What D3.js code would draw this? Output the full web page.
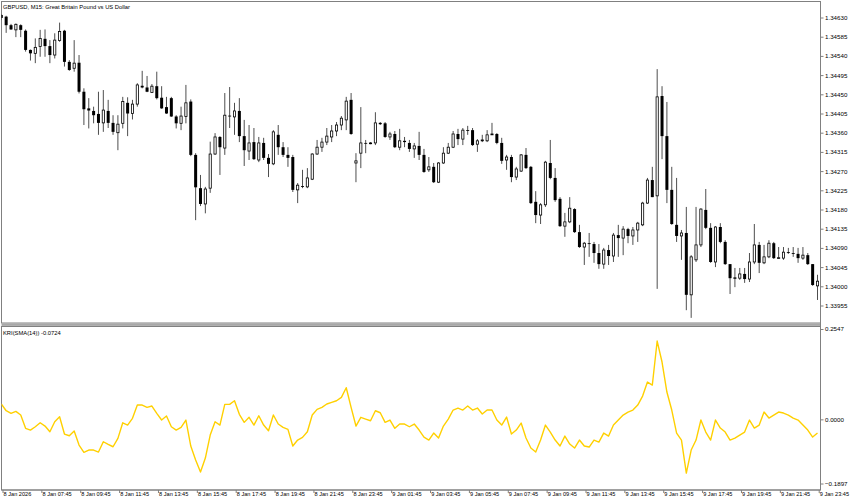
<!DOCTYPE html>
<html><head><meta charset="utf-8">
<script src="https://cdn.jsdelivr.net/npm/d3@7"></script>
<style>
html,body{margin:0;padding:0;background:#fff;}
svg{display:block;}
text{font-family:"Liberation Sans",Arial,sans-serif;fill:#000;}
</style>
</head><body>
<svg id="c" width="852" height="501"></svg>
<script>
const chartTitle = "GBPUSD, M15:  Great Britain Pound vs US Dollar";
const indicatorTitle = "KRI(SMA(14)) -0.0724";

const opens = [1.34636,1.34632,1.34612,1.34601,1.34612,1.34599,1.34554,1.34546,1.34562,1.34580,1.34563,1.34542,1.34576,1.34599,1.34526,1.34511,1.34524,1.34456,1.34417,1.34411,1.34404,1.34383,1.34411,1.34383,1.34360,1.34382,1.34430,1.34405,1.34427,1.34470,1.34466,1.34454,1.34469,1.34442,1.34420,1.34441,1.34398,1.34382,1.34398,1.34433,1.34308,1.34230,1.34193,1.34230,1.34310,1.34350,1.34324,1.34400,1.34397,1.34411,1.34352,1.34317,1.34338,1.34296,1.34336,1.34301,1.34287,1.34355,1.34326,1.34308,1.34303,1.34226,1.34235,1.34233,1.34251,1.34310,1.34326,1.34338,1.34350,1.34364,1.34378,1.34390,1.34437,1.34289,1.34312,1.34336,1.34335,1.34336,1.34383,1.34382,1.34350,1.34357,1.34326,1.34341,1.34336,1.34322,1.34329,1.34308,1.34273,1.34280,1.34244,1.34289,1.34312,1.34326,1.34357,1.34345,1.34366,1.34366,1.34333,1.34341,1.34341,1.34355,1.34357,1.34336,1.34296,1.34303,1.34256,1.34270,1.34308,1.34280,1.34198,1.34167,1.34191,1.34289,1.34254,1.34205,1.34141,1.34151,1.34181,1.34127,1.34092,1.34101,1.34099,1.34078,1.34052,1.34085,1.34071,1.34120,1.34113,1.34134,1.34118,1.34132,1.34144,1.34195,1.34249,1.34212,1.34446,1.34352,1.34226,1.34144,1.34118,1.34125,1.33980,1.34062,1.34097,1.34179,1.34137,1.34057,1.34139,1.34104,1.34052,1.34019,1.34019,1.34029,1.34017,1.34057,1.34097,1.34055,1.34069,1.34101,1.34066,1.34066,1.34080,1.34078,1.34076,1.34066,1.34073,1.34052,1.34001];
const highs = [1.34638,1.34634,1.34615,1.34616,1.34614,1.34602,1.34555,1.34581,1.34601,1.34602,1.34577,1.34593,1.34618,1.34601,1.34530,1.34577,1.34542,1.34464,1.34441,1.34421,1.34456,1.34460,1.34437,1.34401,1.34401,1.34444,1.34443,1.34437,1.34476,1.34505,1.34493,1.34474,1.34503,1.34469,1.34444,1.34444,1.34401,1.34421,1.34472,1.34438,1.34312,1.34261,1.34233,1.34339,1.34359,1.34352,1.34453,1.34467,1.34430,1.34441,1.34390,1.34378,1.34371,1.34350,1.34348,1.34310,1.34366,1.34378,1.34338,1.34326,1.34308,1.34242,1.34273,1.34277,1.34312,1.34343,1.34348,1.34371,1.34378,1.34385,1.34399,1.34444,1.34453,1.34312,1.34420,1.34343,1.34338,1.34408,1.34385,1.34385,1.34362,1.34364,1.34369,1.34350,1.34343,1.34336,1.34362,1.34322,1.34303,1.34289,1.34291,1.34326,1.34336,1.34364,1.34369,1.34371,1.34376,1.34371,1.34345,1.34355,1.34366,1.34383,1.34359,1.34348,1.34308,1.34308,1.34280,1.34310,1.34324,1.34282,1.34223,1.34195,1.34294,1.34343,1.34277,1.34209,1.34172,1.34209,1.34183,1.34144,1.34104,1.34125,1.34104,1.34099,1.34090,1.34097,1.34125,1.34144,1.34141,1.34137,1.34139,1.34151,1.34198,1.34254,1.34280,1.34509,1.34469,1.34432,1.34280,1.34254,1.34132,1.34186,1.34073,1.34186,1.34183,1.34228,1.34148,1.34141,1.34148,1.34108,1.34052,1.34043,1.34043,1.34043,1.34078,1.34146,1.34104,1.34097,1.34108,1.34104,1.34092,1.34092,1.34090,1.34092,1.34090,1.34092,1.34078,1.34052,1.34027];
const lows = [1.34624,1.34594,1.34601,1.34584,1.34584,1.34550,1.34529,1.34523,1.34538,1.34538,1.34523,1.34534,1.34573,1.34515,1.34505,1.34503,1.34452,1.34378,1.34370,1.34382,1.34355,1.34362,1.34371,1.34355,1.34319,1.34370,1.34352,1.34391,1.34421,1.34464,1.34455,1.34453,1.34438,1.34416,1.34404,1.34397,1.34370,1.34366,1.34382,1.34305,1.34155,1.34188,1.34171,1.34219,1.34308,1.34261,1.34308,1.34371,1.34355,1.34338,1.34282,1.34296,1.34296,1.34291,1.34296,1.34256,1.34284,1.34308,1.34303,1.34280,1.34221,1.34195,1.34230,1.34230,1.34249,1.34308,1.34315,1.34331,1.34338,1.34352,1.34366,1.34366,1.34355,1.34244,1.34277,1.34312,1.34333,1.34331,1.34378,1.34348,1.34343,1.34324,1.34319,1.34326,1.34315,1.34301,1.34296,1.34266,1.34268,1.34242,1.34242,1.34287,1.34310,1.34324,1.34331,1.34331,1.34355,1.34329,1.34315,1.34338,1.34338,1.34355,1.34333,1.34287,1.34273,1.34244,1.34249,1.34268,1.34275,1.34193,1.34148,1.34146,1.34186,1.34251,1.34198,1.34139,1.34116,1.34148,1.34125,1.34090,1.34050,1.34069,1.34055,1.34041,1.34041,1.34050,1.34057,1.34069,1.34073,1.34101,1.34097,1.34104,1.34141,1.34193,1.34209,1.33994,1.34298,1.34195,1.34144,1.34104,1.34062,1.33944,1.33926,1.34057,1.34092,1.34134,1.34055,1.34045,1.34101,1.34050,1.33982,1.33998,1.34015,1.34008,1.34010,1.34052,1.34031,1.34052,1.34066,1.34064,1.34064,1.34062,1.34076,1.34069,1.34055,1.34062,1.34050,1.34001,1.33968];
const closes = [1.34629,1.34612,1.34602,1.34614,1.34601,1.34554,1.34546,1.34560,1.34581,1.34563,1.34542,1.34577,1.34597,1.34526,1.34507,1.34523,1.34456,1.34415,1.34412,1.34401,1.34383,1.34413,1.34383,1.34362,1.34380,1.34433,1.34405,1.34427,1.34472,1.34466,1.34456,1.34469,1.34441,1.34417,1.34405,1.34398,1.34382,1.34399,1.34430,1.34308,1.34232,1.34193,1.34228,1.34310,1.34350,1.34326,1.34401,1.34398,1.34411,1.34352,1.34319,1.34336,1.34298,1.34336,1.34301,1.34287,1.34362,1.34326,1.34308,1.34301,1.34226,1.34237,1.34233,1.34254,1.34310,1.34326,1.34338,1.34352,1.34364,1.34378,1.34394,1.34434,1.34357,1.34294,1.34336,1.34335,1.34336,1.34383,1.34380,1.34350,1.34357,1.34326,1.34341,1.34338,1.34322,1.34329,1.34308,1.34268,1.34280,1.34244,1.34289,1.34312,1.34326,1.34357,1.34345,1.34366,1.34364,1.34331,1.34341,1.34343,1.34355,1.34357,1.34336,1.34294,1.34303,1.34256,1.34275,1.34308,1.34277,1.34195,1.34167,1.34191,1.34291,1.34254,1.34202,1.34141,1.34151,1.34183,1.34127,1.34092,1.34101,1.34099,1.34078,1.34052,1.34085,1.34071,1.34120,1.34113,1.34134,1.34118,1.34132,1.34148,1.34195,1.34249,1.34209,1.34444,1.34352,1.34226,1.34146,1.34118,1.34125,1.33980,1.34069,1.34097,1.34181,1.34137,1.34057,1.34139,1.34104,1.34052,1.34019,1.34020,1.34029,1.34017,1.34057,1.34097,1.34055,1.34069,1.34101,1.34066,1.34067,1.34080,1.34078,1.34076,1.34066,1.34073,1.34052,1.34003,1.34012];
const kri = [0.0434,0.0250,0.0178,0.0233,0.0132,-0.0233,-0.0280,-0.0189,-0.0080,-0.0170,-0.0326,-0.0052,0.0085,-0.0390,-0.0436,-0.0307,-0.0691,-0.0892,-0.0829,-0.0829,-0.0883,-0.0601,-0.0672,-0.0738,-0.0508,-0.0080,-0.0143,0.0041,0.0406,0.0406,0.0343,0.0379,0.0178,-0.0005,0.0104,-0.0189,-0.0280,-0.0206,-0.0005,-0.0719,-0.1103,-0.1432,-0.1048,-0.0417,-0.0052,-0.0143,0.0425,0.0425,0.0524,0.0151,-0.0069,0.0069,-0.0143,0.0112,-0.0143,-0.0299,0.0132,-0.0115,-0.0206,-0.0261,-0.0719,-0.0554,-0.0480,-0.0326,0.0132,0.0288,0.0343,0.0434,0.0480,0.0524,0.0617,0.0881,0.0343,-0.0170,0.0069,0.0022,-0.0025,0.0250,0.0195,-0.0069,-0.0005,-0.0233,-0.0115,-0.0115,-0.0189,-0.0115,-0.0280,-0.0472,-0.0554,-0.0362,-0.0499,-0.0170,0.0022,0.0269,0.0324,0.0269,0.0379,0.0269,0.0324,0.0159,0.0269,0.0269,-0.0005,-0.0143,0.0077,-0.0390,-0.0280,-0.0088,-0.0499,-0.0774,-0.0884,-0.0554,-0.0143,-0.0335,-0.0554,-0.0719,-0.0445,-0.0664,-0.0774,-0.0554,-0.0719,-0.0746,-0.0554,-0.0609,-0.0362,-0.0445,-0.0143,-0.0005,0.0132,0.0214,0.0269,0.0406,0.0653,0.1037,0.0955,0.2162,0.1586,0.0763,0.0269,-0.0362,-0.0554,-0.1460,-0.0829,-0.0554,-0.0005,-0.0335,-0.0554,-0.0005,-0.0225,-0.0335,-0.0554,-0.0499,-0.0417,-0.0335,-0.0005,-0.0225,-0.0143,0.0214,0.0049,0.0132,0.0214,0.0187,0.0132,0.0049,-0.0005,-0.0143,-0.0280,-0.0472,-0.0362];

const priceTicks = [1.34630,1.34585,1.34540,1.34495,1.34450,1.34405,1.34360,1.34315,1.34270,1.34225,1.34180,1.34135,1.34090,1.34045,1.34000,1.33955];
const kriTicks = [0.2547,0.0000,-0.1897];
const timeTickBars = [0,8,16,24,32,40,48,56,64,72,80,88,96,104,112,120,128,136,144,152,160,168];
const timeTickLabels = ["8 Jan 2026","8 Jan 07:45","8 Jan 09:45","8 Jan 11:45","8 Jan 13:45","8 Jan 15:45","8 Jan 17:45","8 Jan 19:45","8 Jan 21:45","8 Jan 23:45","9 Jan 01:45","9 Jan 03:45","9 Jan 05:45","9 Jan 07:45","9 Jan 09:45","9 Jan 11:45","9 Jan 13:45","9 Jan 15:45","9 Jan 17:45","9 Jan 19:45","9 Jan 21:45","9 Jan 23:45"];

const candles = opens.map((o,i)=>({i,o,h:highs[i],l:lows[i],c:closes[i]}));

const L=1.5, R=820.5, mainTop=1.5, mainBot=323, indTop=326.5, indBot=490;
const svg = d3.select("#c");
const x = d3.scaleLinear().domain([0,opens.length-1]).range([1.3,817.5]);
const y = d3.scaleLinear().domain([1.33955,1.34630]).range([305.5,17.5]);
const yk = d3.scaleLinear().domain([-0.1897,0.2547]).range([489,327]);

const defs = svg.append("defs");
defs.append("clipPath").attr("id","cm").append("rect").attr("x",L).attr("y",mainTop).attr("width",R-L).attr("height",mainBot-mainTop);
defs.append("clipPath").attr("id","ci").append("rect").attr("x",L).attr("y",indTop).attr("width",R-L).attr("height",indBot-indTop);

// frames
svg.append("rect").attr("x",L).attr("y",mainTop).attr("width",R-L).attr("height",mainBot-mainTop).attr("fill","none").attr("stroke","#808080").attr("stroke-width",1);
svg.append("rect").attr("x",L).attr("y",323.3).attr("width",R-L).attr("height",2.6).attr("fill","#a8a8a8");
svg.append("rect").attr("x",L).attr("y",indTop).attr("width",R-L).attr("height",indBot-indTop).attr("fill","none").attr("stroke","#808080").attr("stroke-width",1);

// candles
const gc = svg.append("g").attr("clip-path","url(#cm)");
gc.selectAll("line.w").data(candles).join("line").attr("class","w")
  .attr("x1",d=>x(d.i)).attr("x2",d=>x(d.i))
  .attr("y1",d=>y(d.h)).attr("y2",d=>y(d.l))
  .attr("stroke","#3a3a3a").attr("stroke-width",0.9);
gc.selectAll("rect.b").data(candles).join("rect").attr("class","b")
  .attr("x",d=>x(d.i)-(d.c>=d.o?1.1:1.5))
  .attr("width",d=>d.c>=d.o?2.2:3)
  .attr("y",d=>y(Math.max(d.o,d.c)))
  .attr("height",d=>Math.max(Math.abs(y(d.o)-y(d.c)),0.8))
  .attr("fill",d=>d.c>=d.o?"#fff":"#000")
  .attr("stroke",d=>d.c>=d.o?"#000":"none")
  .attr("stroke-width",0.8);

// KRI line
const gi = svg.append("g").attr("clip-path","url(#ci)");
gi.append("path").datum(kri)
  .attr("d",d3.line().x((d,i)=>x(i)).y(d=>yk(d)))
  .attr("fill","none").attr("stroke","#FFD000").attr("stroke-width",1.4).attr("stroke-linejoin","round");

// right price axis
const ax = svg.append("g").attr("transform",`translate(${R},0)`)
  .call(d3.axisRight(y).tickValues(priceTicks).tickSize(3).tickPadding(1.5).tickFormat(d3.format(".5f")));
ax.select(".domain").remove();
ax.selectAll("line").attr("stroke","#808080");
ax.selectAll("text").attr("font-size","6.2px").attr("font-family","Liberation Sans, Arial, sans-serif");

// right KRI axis
const ak = svg.append("g").attr("transform",`translate(${R},0)`)
  .call(d3.axisRight(yk).tickValues(kriTicks).tickSize(3).tickPadding(1.5).tickFormat(d3.format(".4f")));
ak.select(".domain").remove();
ak.selectAll("line").attr("stroke","#808080");
ak.selectAll("text").attr("font-size","6.2px").attr("font-family","Liberation Sans, Arial, sans-serif");
ak.selectAll(".tick").attr("transform",d=>`translate(0,${Math.min(Math.max(yk(d),329.5),484)})`);

// axis lines
svg.append("line").attr("x1",R).attr("x2",R).attr("y1",mainTop).attr("y2",indBot).attr("stroke","#808080");
svg.append("line").attr("x1",L).attr("x2",R).attr("y1",indBot).attr("y2",indBot).attr("stroke","#808080");

// bottom time axis
const at = svg.append("g").attr("transform",`translate(0,${indBot})`)
  .call(d3.axisBottom(x).tickValues(timeTickBars).tickSize(3).tickPadding(0).tickFormat((d,i)=>timeTickLabels[i]));
at.select(".domain").remove();
at.selectAll("line").attr("stroke","#808080").attr("transform","translate(1.2,0)");
at.selectAll("text").attr("font-size","5.6px").attr("font-family","Liberation Sans, Arial, sans-serif")
  .attr("text-anchor","start").attr("dx","1.8").attr("dy","0").attr("y",6.4);

// titles
svg.append("text").attr("x",3).attr("y",8.6).attr("font-size","5.8px").text(chartTitle);
svg.append("text").attr("x",3).attr("y",334.8).attr("font-size","5.8px").text(indicatorTitle);
</script>
</body></html>
